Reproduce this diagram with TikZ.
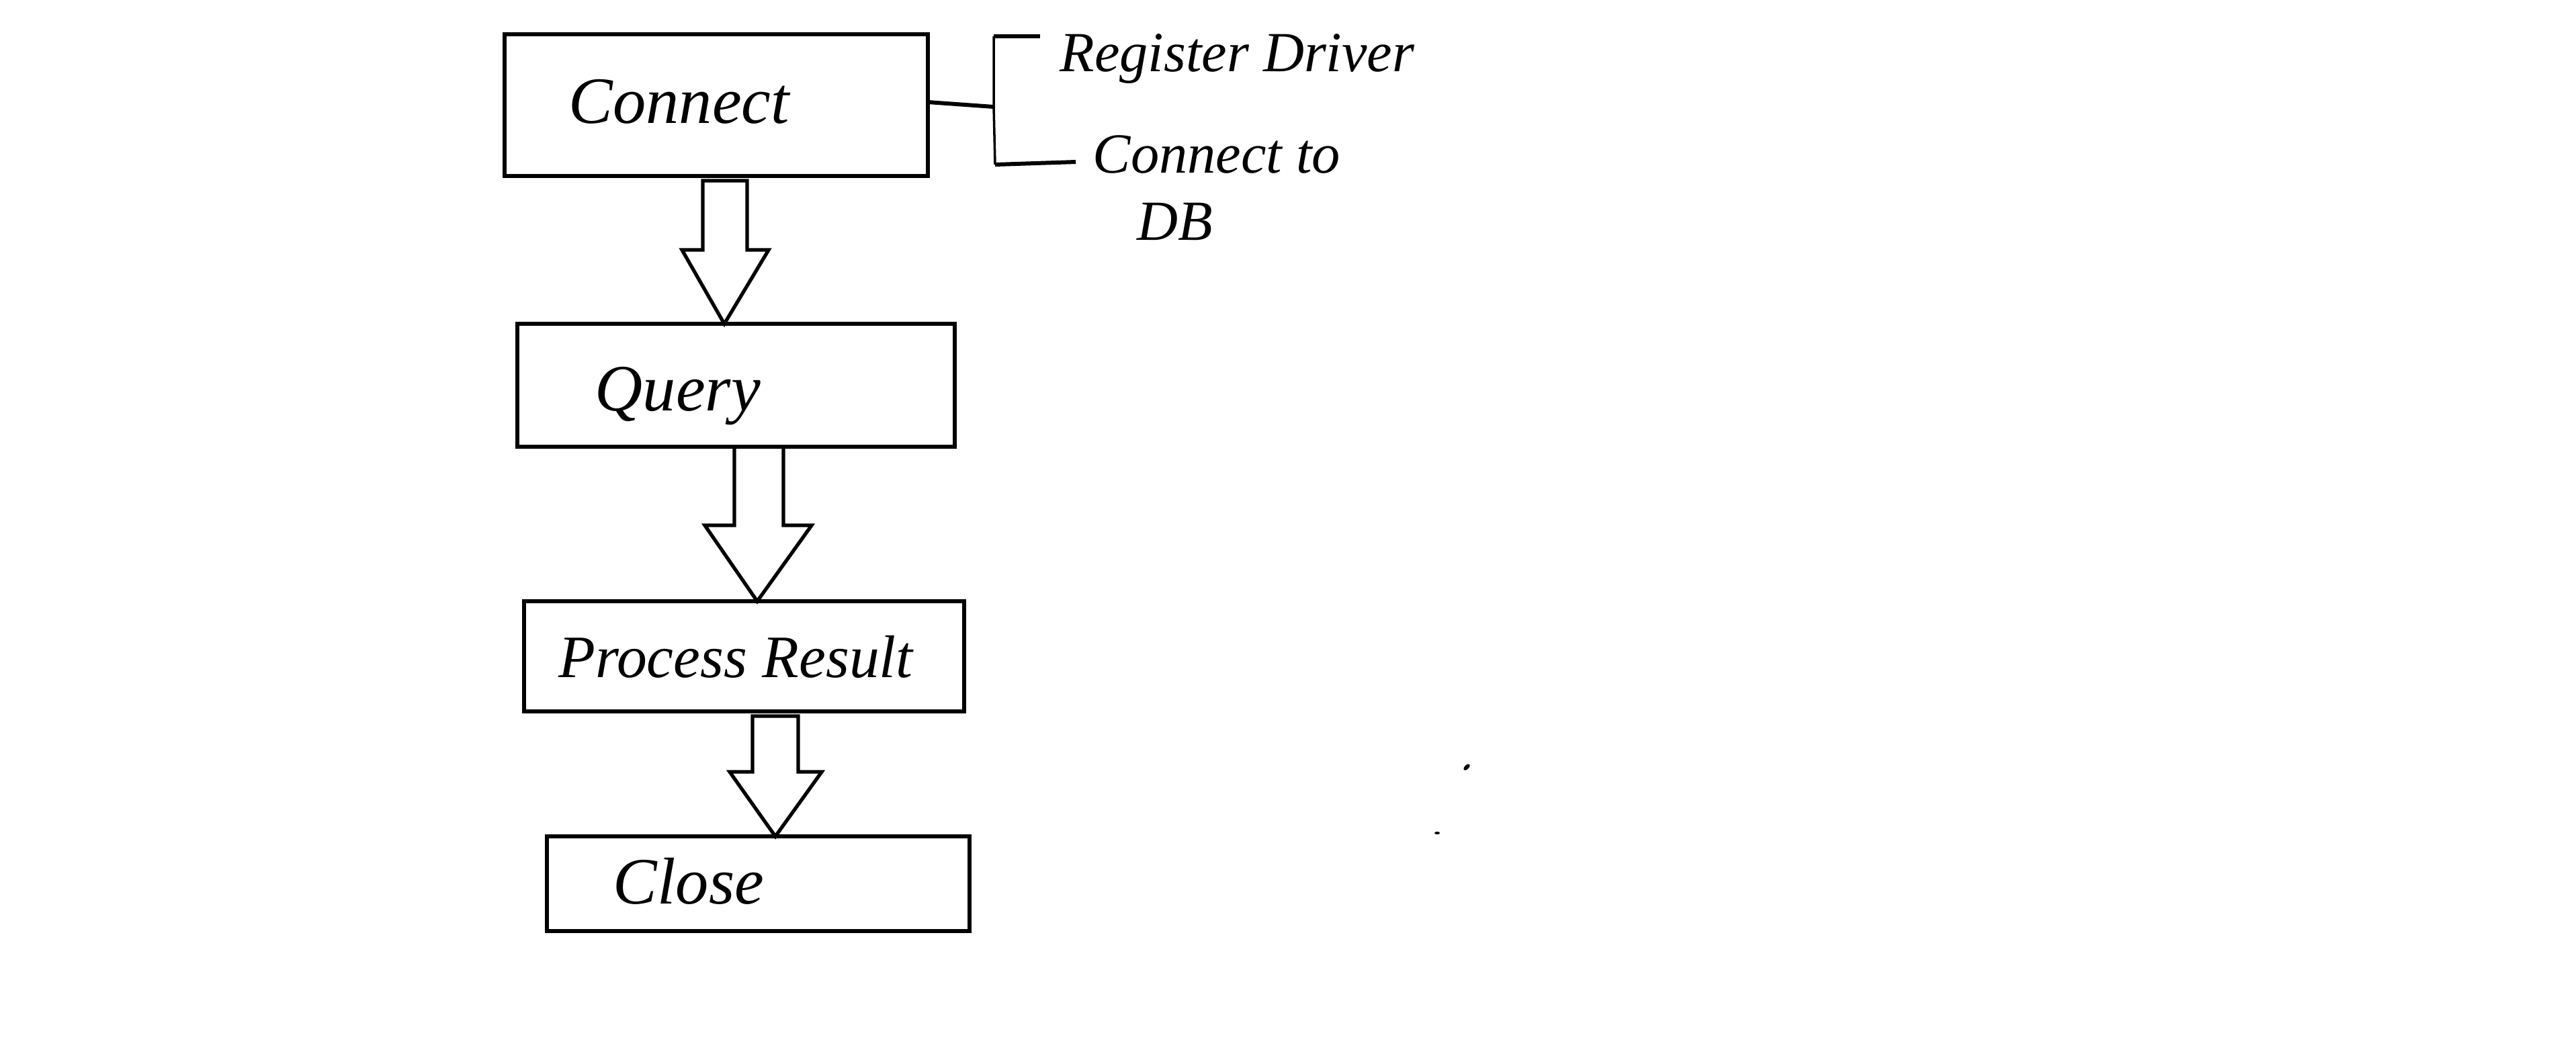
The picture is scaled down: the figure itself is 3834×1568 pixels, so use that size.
\documentclass[tikz,border=0pt]{standalone}
\usepackage{fontspec}
\setmainfont{Liberation Serif}
\begin{document}
\begin{tikzpicture}[x=0.01cm,y=-0.01cm,
  box/.style={draw=black,line width=1.7pt,inner sep=0pt,outer sep=0pt,anchor=north west},
  lbl/.style={anchor=base west,inner sep=0pt,font=\fontsize{28}{30}\selectfont\itshape},
  lblsmall/.style={anchor=base west,inner sep=0pt,font=\fontsize{25.5}{28}\selectfont\itshape},
  side/.style={anchor=base west,inner sep=0pt,font=\fontsize{24}{26}\selectfont\itshape},
  blockarrow/.style={draw=black,line width=1.5pt,line join=miter},
  brk/.style={draw=black,line width=1pt},
  tick/.style={draw=black,line width=1.7pt}]
\fill[white] (0,0) rectangle (3834,1568);
\useasboundingbox (0,0) rectangle (3834,1568);
% boxes
\node[box,minimum width=6.30cm,minimum height=2.11cm] (c1) at (751,51) {};
\node[box,minimum width=6.51cm,minimum height=1.83cm] (c2) at (770,482) {};
\node[box,minimum width=6.55cm,minimum height=1.64cm] (c3) at (780,895) {};
\node[box,minimum width=6.29cm,minimum height=1.41cm] (c4) at (814,1245) {};
% labels
\node[lbl] (t1) at (846,183) {Connect};
\node[lbl] (t2) at (885,611) {Query};
\node[lblsmall] (t3) at (831,1008) {Process Result};
\node[lbl] (t4) at (912,1345) {Close};
\node[side] (s1) at (1577,106) {Register Driver};
\node[side] (s2) at (1626,257) {Connect to};
\node[side] (s3) at (1692,357) {DB};
% bracket
\coordinate (bm) at (1479,159);
\coordinate (bt) at (1479,54);
\coordinate (bb) at (1481,245);
\draw[tick] (c1.east |- 0,152) -- (bm);
\draw[brk] (bt) -- (bm) -- (bb);
\draw[tick] (bt) -- (1548,54);
\draw[tick] (bb) -- (1601,241);
% block arrows
\draw[blockarrow] (1046,269) -- (1046,372) -- (1015,372) -- (1078,0 |- c2.north)
  -- (1144,372) -- (1112,372) -- (1112,269) -- cycle;
\draw[blockarrow] (1093,0 |- c2.south) -- (1093,782) -- (1049,782) -- (1127,0 |- c3.north)
  -- (1208,782) -- (1166,782) -- (1166,0 |- c2.south) -- cycle;
\draw[blockarrow] (1120,1066) -- (1120,1149) -- (1086,1149) -- (1154,0 |- c4.north)
  -- (1223,1149) -- (1188,1149) -- (1188,1066) -- cycle;
% stray marks
\fill[black,rotate around={45:(2183,1142)}] (2183,1142) ellipse (6 and 3);
\fill[black] (2139,1240) ellipse (4 and 2);
\end{tikzpicture}
\end{document}
